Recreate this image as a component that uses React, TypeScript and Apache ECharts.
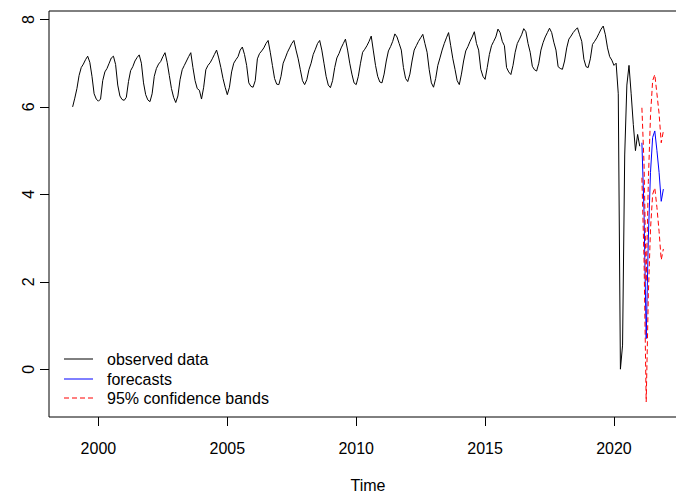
import React, { useEffect, useRef } from "react";
import * as echarts from "echarts";

// Monthly observed series, starting January 1999
const OBS_START = 1999;
const observed: number[] = [
  // 1999
  6.0, 6.2, 6.42, 6.72, 6.9, 6.98, 7.08, 7.16, 7.02, 6.7, 6.3, 6.18,
  // 2000
  6.13, 6.18, 6.6, 6.8, 6.88, 7.0, 7.12, 7.16, 6.97, 6.5, 6.25, 6.17,
  // 2001
  6.15, 6.22, 6.58, 6.83, 6.92, 7.05, 7.13, 7.19, 7.0, 6.55, 6.28, 6.16,
  // 2002
  6.12, 6.3, 6.7, 6.88, 6.98, 7.04, 7.15, 7.24, 7.02, 6.72, 6.42, 6.22,
  // 2003
  6.1, 6.25, 6.62, 6.85, 6.95, 7.05, 7.15, 7.24, 6.9, 6.6, 6.42, 6.38,
  // 2004
  6.18, 6.45, 6.85, 6.95, 7.01, 7.1, 7.2, 7.3, 7.12, 6.9, 6.65, 6.45,
  // 2005
  6.28, 6.45, 6.8, 7.0, 7.08, 7.15, 7.3, 7.37, 7.2, 6.95, 6.55, 6.47,
  // 2006
  6.45, 6.6, 7.1, 7.22, 7.28, 7.35, 7.45, 7.52, 7.25, 6.95, 6.65, 6.52,
  // 2007
  6.51, 6.7, 7.0, 7.12, 7.25, 7.35, 7.45, 7.52, 7.3, 7.1, 6.85, 6.6,
  // 2008
  6.51, 6.62, 6.85, 7.0, 7.2, 7.32, 7.45, 7.52, 7.3, 7.0, 6.7, 6.5,
  // 2009
  6.44, 6.6, 6.9, 7.12, 7.22, 7.35, 7.45, 7.55, 7.3, 7.0, 6.75, 6.55,
  // 2010
  6.51, 6.7, 7.0, 7.25, 7.32, 7.4, 7.5, 7.62, 7.28, 6.95, 6.7, 6.57,
  // 2011
  6.55, 6.75, 7.05, 7.28, 7.38, 7.5, 7.67, 7.6, 7.45, 7.3, 6.9, 6.65,
  // 2012
  6.58, 6.75, 7.05, 7.3, 7.4, 7.5, 7.58, 7.66, 7.45, 7.25, 6.85, 6.55,
  // 2013
  6.45, 6.65, 6.95, 7.12, 7.3, 7.45, 7.58, 7.7, 7.4, 7.1, 6.86, 6.6,
  // 2014
  6.51, 6.75, 7.05, 7.28, 7.38, 7.5, 7.6, 7.72, 7.45, 7.3, 6.86, 6.7,
  // 2015
  6.63, 6.9, 7.2, 7.4, 7.5, 7.6, 7.78, 7.7, 7.5, 7.4, 6.9, 6.8,
  // 2016
  6.74, 6.95, 7.25, 7.45, 7.55, 7.65, 7.79, 7.72, 7.45, 7.25, 6.93, 6.85,
  // 2017
  6.82, 7.0, 7.3, 7.47, 7.6, 7.7, 7.8, 7.7, 7.48, 7.3, 6.92, 6.88,
  // 2018
  6.86, 7.05, 7.35, 7.55, 7.62, 7.7, 7.76, 7.81, 7.65, 7.5, 7.09, 6.92,
  // 2019
  6.9, 7.1, 7.43, 7.5, 7.58, 7.68, 7.78, 7.85, 7.65, 7.35, 7.15, 7.07,
  // 2020
  6.95, 7.0, 6.3, 0.0, 0.55, 4.9, 6.5, 6.95, 6.3, 5.6, 5.0, 5.37,
  // 2021
  5.1,
];

// Forecasts, monthly from February 2021
const FC_START = 2021 + 1 / 12;
const forecast: number[] = [5.18, 3.6, 0.7, 3.0, 4.5, 5.3, 5.45, 5.0, 4.5, 3.84, 4.12];
const upper95: number[] = [5.98, 4.7, 2.0, 4.3, 5.8, 6.6, 6.74, 6.3, 5.85, 5.18, 5.45];
const lower95: number[] = [4.38, 2.5, -0.75, 1.7, 3.2, 4.0, 4.15, 3.7, 3.15, 2.5, 2.75];

const xTicks = [2000, 2005, 2010, 2015, 2020];
const yTicks = [0, 2, 4, 6, 8];
const legendLabels = ["observed data", "forecasts", "95% confidence bands"];
const xTitle = "Time";

const FONT = "'Liberation Sans', Arial, Helvetica, sans-serif";

export default function App() {
  const ref = useRef<HTMLDivElement>(null);

  useEffect(() => {
    document.body.style.margin = "0";
    document.body.style.overflow = "hidden";
    if (!ref.current) return;
    const chart = echarts.init(ref.current, undefined, { renderer: "svg" });

    const obsData = observed.map((v, i) => [OBS_START + i / 12, v]);
    const fcData = forecast.map((v, i) => [FC_START + i / 12, v]);
    const upData = upper95.map((v, i) => [FC_START + i / 12, v]);
    const loData = lower95.map((v, i) => [FC_START + i / 12, v]);

    const dash = [5, 3];
    const legendColors = ["#000000", "#0000ff", "#ff0000"];
    const legendY = [359, 379, 398];

    const graphic: any[] = [];
    legendLabels.forEach((label, i) => {
      graphic.push({
        type: "line",
        silent: true,
        shape: { x1: 64, y1: legendY[i], x2: 93, y2: legendY[i] },
        style: {
          stroke: legendColors[i],
          lineWidth: 1,
          lineDash: i === 2 ? dash : null,
        },
      });
      graphic.push({
        type: "text",
        silent: true,
        x: 107,
        y: legendY[i],
        style: {
          text: label,
          fontSize: 16,
          fontFamily: FONT,
          fill: "#000",
          verticalAlign: "middle",
          align: "left",
        },
      });
    });
    graphic.push({
      type: "text",
      silent: true,
      x: 368,
      y: 485,
      style: {
        text: xTitle,
        fontSize: 16,
        fontFamily: FONT,
        fill: "#000",
        verticalAlign: "middle",
        align: "center",
      },
    });

    const option: any = {
      animation: false,
      backgroundColor: "#ffffff",
      grid: {
        left: 49,
        top: 11,
        right: 13,
        bottom: 76,
        show: true,
        borderColor: "#000",
        borderWidth: 1,
        backgroundColor: "transparent",
      },
      xAxis: {
        type: "value",
        min: 1998.083,
        max: 2022.833,
        axisLine: { show: false, onZero: false },
        splitLine: { show: false },
        axisTick: {
          show: true,
          customValues: xTicks,
          length: 9,
          inside: false,
          lineStyle: { color: "#000", width: 1 },
        },
        axisLabel: {
          customValues: xTicks,
          fontSize: 16,
          fontFamily: FONT,
          color: "#000",
          margin: 23,
          formatter: (v: number) => String(Math.round(v)),
        },
      },
      yAxis: {
        type: "value",
        min: -1.094,
        max: 8.194,
        axisLine: { show: false, onZero: false },
        splitLine: { show: false },
        axisTick: {
          show: true,
          customValues: yTicks,
          length: 9,
          inside: false,
          lineStyle: { color: "#000", width: 1 },
        },
        axisLabel: {
          customValues: yTicks,
          fontSize: 16,
          fontFamily: FONT,
          color: "#000",
          rotate: 90,
          margin: 13,
          formatter: (v: number) => String(Math.round(v)),
        },
      },
      series: [
        {
          name: legendLabels[0],
          type: "line",
          data: obsData,
          showSymbol: false,
          symbol: "none",
          silent: true,
          lineStyle: { color: "#000", width: 1 },
        },
        {
          name: legendLabels[1],
          type: "line",
          data: fcData,
          showSymbol: false,
          symbol: "none",
          silent: true,
          lineStyle: { color: "#0000ff", width: 1 },
        },
        {
          name: legendLabels[2] + " (upper)",
          type: "line",
          data: upData,
          showSymbol: false,
          symbol: "none",
          silent: true,
          lineStyle: { color: "#ff0000", width: 1, type: dash },
        },
        {
          name: legendLabels[2] + " (lower)",
          type: "line",
          data: loData,
          showSymbol: false,
          symbol: "none",
          silent: true,
          lineStyle: { color: "#ff0000", width: 1, type: dash },
        },
      ],
      graphic,
    };

    chart.setOption(option);
    return () => {
      chart.dispose();
    };
  }, []);

  return (
    <div
      ref={ref}
      style={{ position: "fixed", left: 0, top: 0, width: 700, height: 493 }}
    />
  );
}
